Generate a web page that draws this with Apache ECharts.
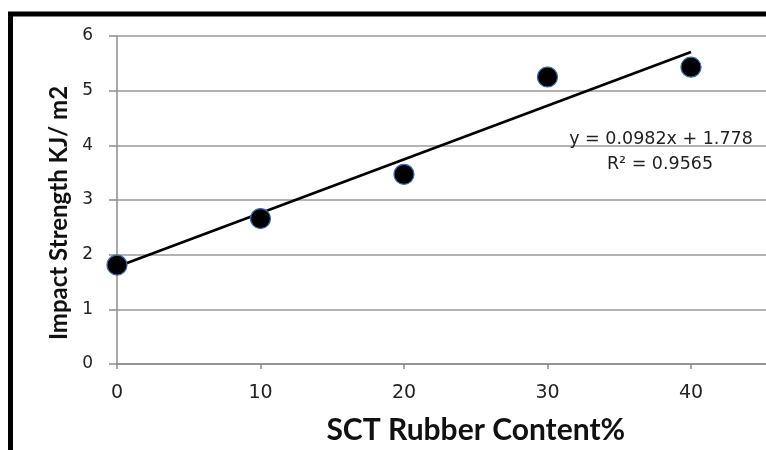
<!DOCTYPE html>
<html><head><meta charset="utf-8">
<script src="https://cdn.jsdelivr.net/npm/echarts@6/dist/echarts.min.js"></script>
<style>html,body{margin:0;padding:0;overflow:hidden;background:#fff;width:766px;height:450px}#c{width:900px;height:450px}</style>
</head><body><div id="c"></div>
<script>
const rubberContent = [0, 10, 20, 30, 40];
const impactStrength = [1.81, 2.66, 3.47, 5.25, 5.43];
const trendSlope = 0.0982;
const trendIntercept = 1.778;
const trendRange = [0, 40];
const equationText = 'y = 0.0982x + 1.778';
const r2Text = 'R² = 0.9565';
const xTitle = 'SCT Rubber Content%';
const yTitle = 'Impact Strength KJ/ m2';

const titleFont = 'Lato, "Open Sans", sans-serif';
const tickFont = '"DejaVu Sans", sans-serif';
const chart = echarts.init(document.getElementById('c'), null, {renderer: 'canvas'});
const points = rubberContent.map((x, i) => [x, impactStrength[i]]);
const trend = trendRange.map(x => [x, trendSlope * x + trendIntercept]);
chart.setOption({
  animation: false,
  backgroundColor: '#fff',
  grid: {left: 117, top: 36, width: 717.5, height: 330, containLabel: false},
  xAxis: {
    type: 'value', min: 0, max: 50, interval: 10,
    name: xTitle, nameLocation: 'middle', nameGap: 51,
    nameTextStyle: {fontFamily: titleFont, fontWeight: 'bold', fontSize: 30, color: '#111'},
    axisLine: {show: true, lineStyle: {color: '#8c8c8c', width: 1.5}},
    axisTick: {show: true, length: 5, lineStyle: {color: '#8c8c8c', width: 1.5}},
    axisLabel: {margin: 20, fontFamily: tickFont, fontSize: 19, color: '#222', showMaxLabel: false},
    splitLine: {show: false}
  },
  yAxis: {
    type: 'value', min: 0, max: 6, interval: 1,
    name: yTitle, nameLocation: 'middle', nameGap: 45, nameRotate: 90,
    nameTextStyle: {fontFamily: titleFont, fontWeight: 'bold', fontSize: 24, color: '#111', padding: [0, 26, 0, 0]},
    axisLine: {show: true, lineStyle: {color: '#8c8c8c', width: 1.5}},
    axisTick: {show: true, length: 8, lineStyle: {color: '#8c8c8c', width: 1.5}},
    axisLabel: {margin: 24, fontFamily: tickFont, fontSize: 17, color: '#222', verticalAlign: 'middle', padding: [8, 0, 0, 0]},
    splitLine: {show: true, lineStyle: {color: '#9a9a9a', width: 1.5}}
  },
  series: [
    {type: 'line', data: trend, symbol: 'none', lineStyle: {color: '#000', width: 2.7}, z: 2},
    {type: 'scatter', data: points, symbol: 'circle', symbolSize: 20,
     itemStyle: {color: '#000', opacity: 1, borderColor: '#3a6aa8', borderWidth: 1.2}, z: 3}
  ],
  graphic: [
    {type: 'rect', shape: {x: 10.5, y: 14, width: 1200, height: 1200},
     style: {fill: 'none', stroke: '#000', lineWidth: 5}, z: 10},
    {type: 'text', x: 661, y: 139, style: {text: equationText, font: '17.5px ' + tickFont, fill: '#222', textAlign: 'center', textVerticalAlign: 'middle'}, z: 10},
    {type: 'text', x: 660, y: 164, style: {text: r2Text, font: '17.5px ' + tickFont, fill: '#222', textAlign: 'center', textVerticalAlign: 'middle'}, z: 10}
  ]
});
</script></body></html>
